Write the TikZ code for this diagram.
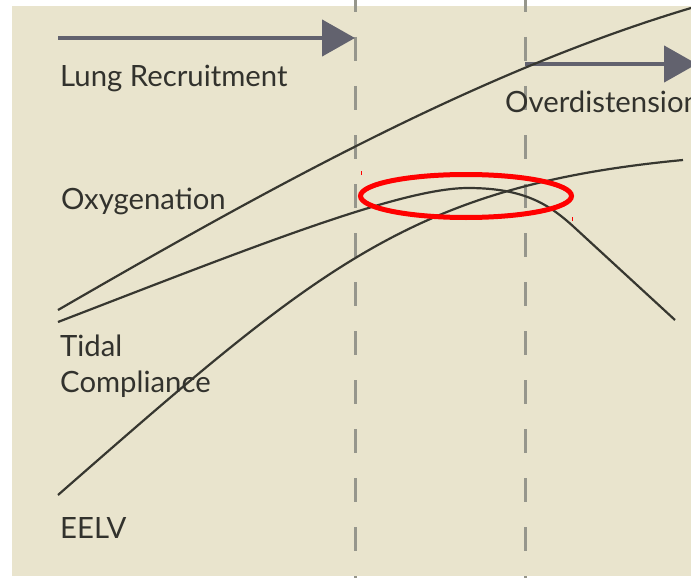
\documentclass[tikz,border=0pt]{standalone}
\usepackage{fontspec}
\setmainfont{Lato}
\usetikzlibrary{arrows.meta}
\definecolor{paper}{RGB}{233,228,205}
\definecolor{ink}{RGB}{55,55,48}
\definecolor{slate}{RGB}{98,98,110}
\definecolor{dashgray}{RGB}{150,150,140}
\definecolor{textgray}{RGB}{50,50,45}
\tikzset{curve/.style={line width=2.2pt, draw=ink}}
\tikzset{phasearrow/.style={line width=4.5pt, draw=slate, -{Triangle[length=33pt,width=36pt]}}}
\tikzset{border/.style={line width=3pt, draw=dashgray, dash pattern=on 24pt off 25pt}}
\tikzset{tag/.style={anchor=base west, inner sep=0pt, text=textgray, font=\fontsize{29.3}{35}\selectfont}}

\begin{document}
\begin{tikzpicture}[x=1pt,y=-1pt]
\useasboundingbox (0,0) rectangle (691,578);
\clip (0,0) rectangle (691,578);
\fill[white] (0,0) rectangle (691,578);
\fill[paper] (12,6) rectangle (691,576);
% phase borders
\coordinate (m1top) at (355,-12);
\coordinate (m1bot) at (355,600);
\coordinate (m2top) at (525,-12);
\coordinate (m2bot) at (525,600);
\draw[border] (m1top) -- (m1bot);
\draw[border] (m2top) -- (m2bot);
% phase arrows
\coordinate (lr0) at (58,38);
\coordinate (lr1) at (355,38);
\coordinate (od0) at (525,64);
\coordinate (od1) at (697,64);
\draw[phasearrow] (lr0) -- (lr1);
\draw[phasearrow] (od0) -- (od1);
% curves
\coordinate (a0) at (58,310);
\coordinate (a1) at (691,8);
\coordinate (b0) at (58,322);
\coordinate (bpeak) at (468,188);
\coordinate (bknee) at (575,228);
\coordinate (b1) at (675,320);
\coordinate (c0) at (58,495);
\coordinate (c1) at (683,160);
\draw[curve] (a0) .. controls (269,188) and (480,71) .. (a1);
\draw[curve] (b0) .. controls (250,248) and (400,188) .. (bpeak)
  .. controls (525,188) and (550,205) .. (bknee) -- (b1);
\draw[curve] (c0) .. controls (318,267.5) and (410,186) .. (c1);
% highlight
\coordinate (hl) at (466,196);
\draw[red, line width=5pt] (hl) ellipse [x radius=105.5, y radius=21.5];
\draw[red, line width=1pt] (361,171) -- (361,175);
\draw[red, line width=1pt] (572,217) -- (572,221);
% labels
\node[tag] (lung) at (60,86) {Lung Recruitment};
\node[tag] (over) at (505,112) {Overdistension};
\node[tag] (oxy) at (61,209) {Oxygenation};
\node[tag] (tidal) at (60,356) {Tidal};
\node[tag] (compl) at (60,392) {Compliance};
\node[tag] (eelv) at (60,538) {EELV};
\end{tikzpicture}
\end{document}
